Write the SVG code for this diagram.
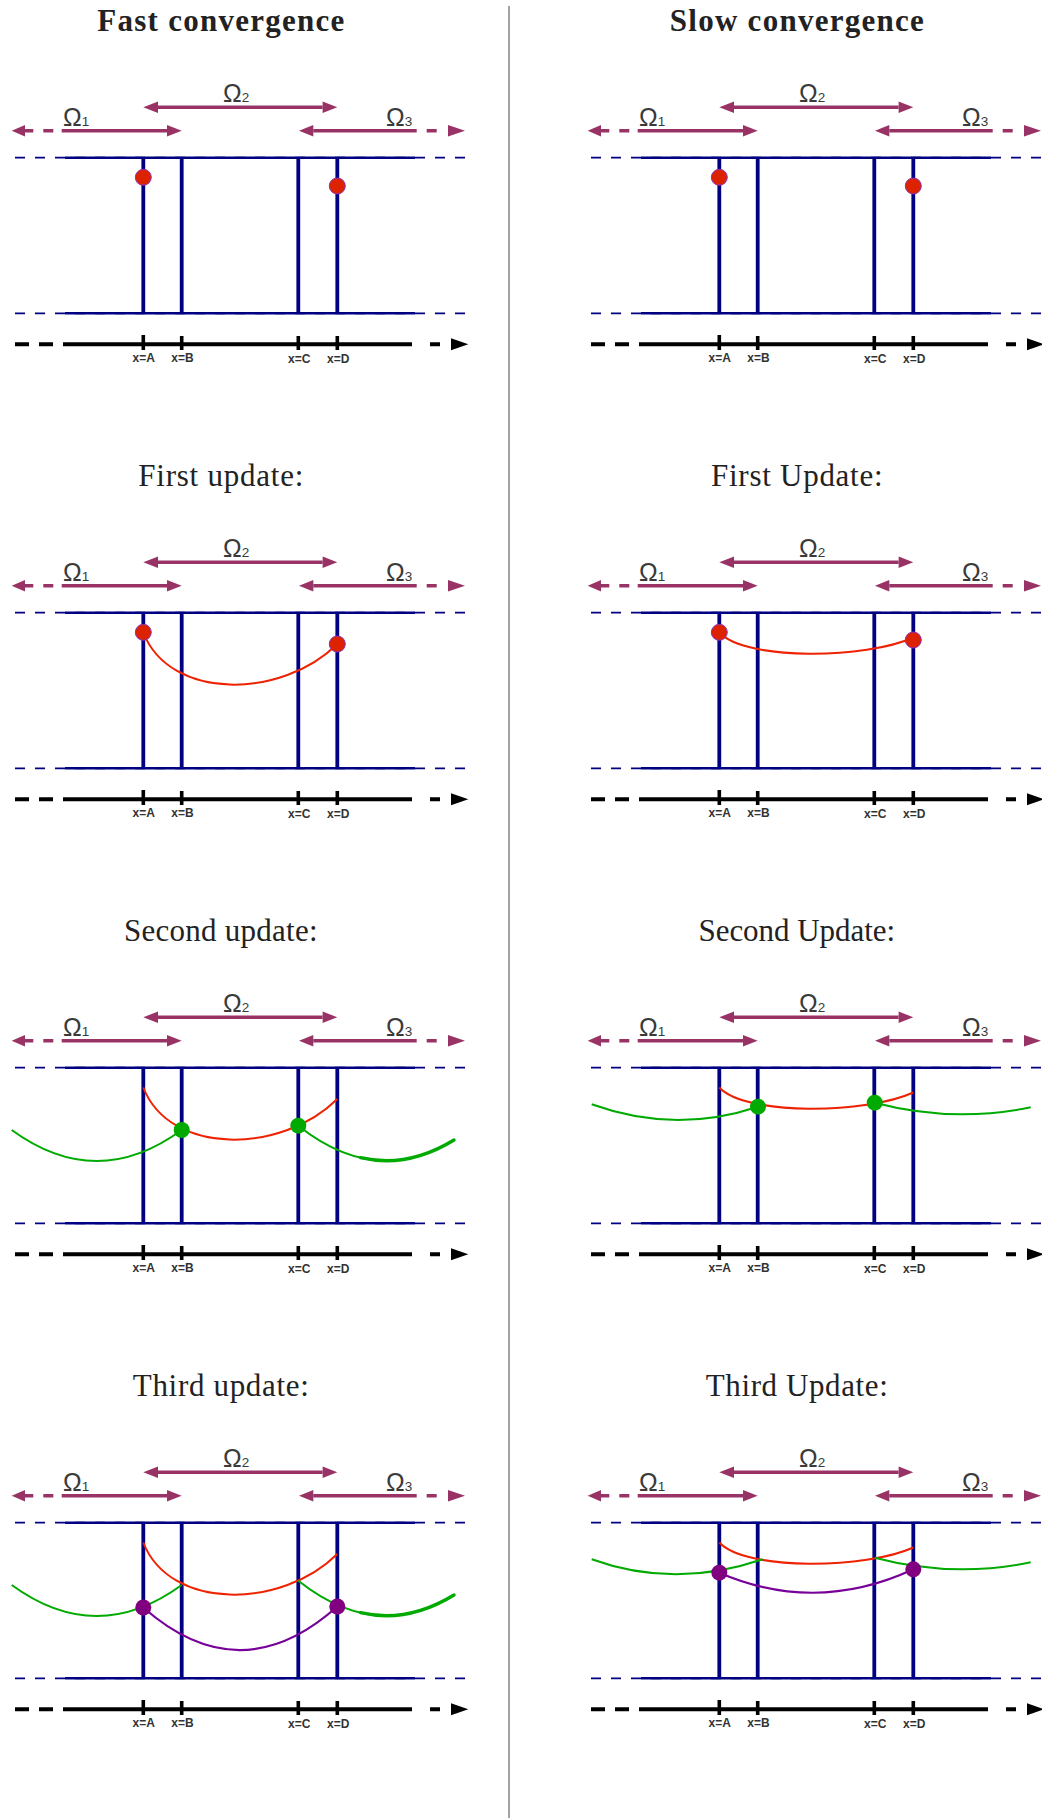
<svg xmlns="http://www.w3.org/2000/svg" width="1042" height="1818" viewBox="0 0 1042 1818">
<style>
.mag{stroke:#993366;stroke-width:3.6;fill:none}
.mh{fill:#993366}
.bh{stroke:#000080;fill:none}
.bd{stroke-width:1.8;stroke-dasharray:10 10}
.bs{stroke-width:2.6}
.bv{stroke:#000080;stroke-width:3.8;fill:none}
.ax{stroke:#000;stroke-width:4;fill:none}
.tk{stroke:#000;stroke-width:3.6}
.om{font-family:"Liberation Sans",Arial,sans-serif;font-size:25px;fill:#3a3a3a}
.sb{font-size:13.5px}
.tl{font-family:"Liberation Sans",Arial,sans-serif;font-size:12px;font-weight:bold;fill:#333;text-anchor:middle}
.ti{font-family:"Liberation Serif","Times New Roman",serif;font-size:31px;font-weight:bold;fill:#222;text-anchor:middle}
.st{font-family:"Liberation Serif","Times New Roman",serif;font-size:31px;fill:#222;text-anchor:middle}
.red{stroke:#ee2200;stroke-width:2;fill:none}
.grn{stroke:#00aa00;stroke-width:2;fill:none}
.gth{stroke:#00aa00;stroke-width:3.4;fill:none;stroke-linecap:round}
.pur{stroke:#770099;stroke-width:2.2;fill:none}
.dr{fill:#dd2200;stroke:#8833bb;stroke-width:1}
.dg{fill:#00aa00}
.dp{fill:#800080}
</style>
<defs>
<g id="base">
<path class="mag" d="M158,107.3H322.6M25,130.7H33.3M43.3,130.7H53.3M61.7,130.7H167M313.3,130.7H416.7M426.7,130.7H436.7"/>
<polygon class="mh" points="143.3,107.3 158,101.5 158,113.1"/>
<polygon class="mh" points="337.3,107.3 322.6,101.5 322.6,113.1"/>
<polygon class="mh" points="11.7,130.7 25,124.9 25,136.5"/>
<polygon class="mh" points="181.7,130.7 167,124.9 167,136.5"/>
<polygon class="mh" points="299,130.7 313.3,124.9 313.3,136.5"/>
<polygon class="mh" points="465,130.7 448,124.9 448,136.5"/>
<path class="bh bd" d="M15,157.7H465M15,313.3H465"/>
<path class="bh bs" d="M65,157.7H415M65,313.3H415"/>
<path class="bv" d="M143.3,157.7V313.3M181.7,157.7V313.3M298.3,157.7V313.3M337.3,157.7V313.3"/>
<path class="ax" stroke-dasharray="14 10" d="M15,344.3H67"/>
<path class="ax" d="M67,344.3H412M430,344.3H440"/>
<polygon points="468.3,344.3 451,338.3 451,350.3" fill="#000"/>
<path class="tk" d="M143.3,335V350M181.7,336V350M298.3,336V350M337.3,336V350"/>
</g>
<path id="redL" class="red" d="M143.3,177.5C170,246 282,244 337.3,189"/>
<path id="redR" class="red" d="M143.3,177.5C170,206 290,204 337.3,182.5"/>
</defs>

<line x1="509" y1="6" x2="509" y2="1818" stroke="#8c8c8c" stroke-width="1.6"/>

<g id="fast-initial">
<text class="ti" x="220.8" y="31" textLength="247">Fast convergence</text>
<use href="#base"/>
<text class="om" x="63" y="126">Ω<tspan class="sb">1</tspan></text>
<text class="om" x="223" y="102">Ω<tspan class="sb">2</tspan></text>
<text class="om" x="386" y="126">Ω<tspan class="sb">3</tspan></text>
<text class="tl" x="143.8" y="362">x=A</text><text class="tl" x="182.5" y="362">x=B</text><text class="tl" x="299.3" y="362.7">x=C</text><text class="tl" x="338.3" y="362.7">x=D</text>
<circle class="dr" cx="143.3" cy="177.3" r="8"/>
<circle class="dr" cx="337.3" cy="186" r="8"/>
</g>

<g id="fast-first" transform="translate(0,455)">
<text class="st" x="220.8" y="31" textLength="165">First update:</text>
<use href="#base"/>
<text class="om" x="63" y="126">Ω<tspan class="sb">1</tspan></text>
<text class="om" x="223" y="102">Ω<tspan class="sb">2</tspan></text>
<text class="om" x="386" y="126">Ω<tspan class="sb">3</tspan></text>
<text class="tl" x="143.8" y="362">x=A</text><text class="tl" x="182.5" y="362">x=B</text><text class="tl" x="299.3" y="362.7">x=C</text><text class="tl" x="338.3" y="362.7">x=D</text>
<use href="#redL"/>
<circle class="dr" cx="143.3" cy="177.3" r="8"/>
<circle class="dr" cx="337.3" cy="189" r="8"/>
</g>

<g id="fast-second" transform="translate(0,910)">
<text class="st" x="220.8" y="31" textLength="193.6">Second update:</text>
<use href="#base"/>
<text class="om" x="63" y="126">Ω<tspan class="sb">1</tspan></text>
<text class="om" x="223" y="102">Ω<tspan class="sb">2</tspan></text>
<text class="om" x="386" y="126">Ω<tspan class="sb">3</tspan></text>
<text class="tl" x="143.8" y="362">x=A</text><text class="tl" x="182.5" y="362">x=B</text><text class="tl" x="299.3" y="362.7">x=C</text><text class="tl" x="338.3" y="362.7">x=D</text>
<use href="#redL"/>
<path class="grn" d="M11.7,220Q96.7,282 181.7,220"/>
<path class="grn" d="M298.3,215.7Q376.2,277.6 454,230"/>
<path class="gth" d="M360.6,247.7Q407.3,258.6 454,230"/>
<circle class="dg" cx="181.7" cy="220" r="8"/>
<circle class="dg" cx="298.3" cy="215.7" r="8"/>
</g>

<g id="fast-third" transform="translate(0,1365)">
<text class="st" x="220.8" y="31" textLength="176">Third update:</text>
<use href="#base"/>
<text class="om" x="63" y="126">Ω<tspan class="sb">1</tspan></text>
<text class="om" x="223" y="102">Ω<tspan class="sb">2</tspan></text>
<text class="om" x="386" y="126">Ω<tspan class="sb">3</tspan></text>
<text class="tl" x="143.8" y="362">x=A</text><text class="tl" x="182.5" y="362">x=B</text><text class="tl" x="299.3" y="362.7">x=C</text><text class="tl" x="338.3" y="362.7">x=D</text>
<use href="#redL"/>
<path class="grn" d="M11.7,220Q96.7,282 181.7,220"/>
<path class="grn" d="M298.3,215.7Q376.2,277.6 454,230"/>
<path class="gth" d="M360.6,247.7Q407.3,258.6 454,230"/>
<path class="pur" d="M143.3,242.5Q240.3,328.1 337.3,241.5"/>
<circle class="dp" cx="143.3" cy="242.5" r="8"/>
<circle class="dp" cx="337.3" cy="241.5" r="8"/>
</g>

<g id="slow-initial" transform="translate(576,0)">
<text class="ti" x="220.8" y="31" textLength="254">Slow convergence</text>
<use href="#base"/>
<text class="om" x="63" y="126">Ω<tspan class="sb">1</tspan></text>
<text class="om" x="223" y="102">Ω<tspan class="sb">2</tspan></text>
<text class="om" x="386" y="126">Ω<tspan class="sb">3</tspan></text>
<text class="tl" x="143.8" y="362">x=A</text><text class="tl" x="182.5" y="362">x=B</text><text class="tl" x="299.3" y="362.7">x=C</text><text class="tl" x="338.3" y="362.7">x=D</text>
<circle class="dr" cx="143.3" cy="177.3" r="8"/>
<circle class="dr" cx="337.3" cy="186" r="8"/>
</g>

<g id="slow-first" transform="translate(576,455)">
<text class="st" x="220.8" y="31" textLength="171.5">First Update:</text>
<use href="#base"/>
<text class="om" x="63" y="126">Ω<tspan class="sb">1</tspan></text>
<text class="om" x="223" y="102">Ω<tspan class="sb">2</tspan></text>
<text class="om" x="386" y="126">Ω<tspan class="sb">3</tspan></text>
<text class="tl" x="143.8" y="362">x=A</text><text class="tl" x="182.5" y="362">x=B</text><text class="tl" x="299.3" y="362.7">x=C</text><text class="tl" x="338.3" y="362.7">x=D</text>
<use href="#redR"/>
<circle class="dr" cx="143.3" cy="177.3" r="8"/>
<circle class="dr" cx="337.3" cy="185" r="8"/>
</g>

<g id="slow-second" transform="translate(576,910)">
<text class="st" x="220.8" y="31" textLength="196.7">Second Update:</text>
<use href="#base"/>
<text class="om" x="63" y="126">Ω<tspan class="sb">1</tspan></text>
<text class="om" x="223" y="102">Ω<tspan class="sb">2</tspan></text>
<text class="om" x="386" y="126">Ω<tspan class="sb">3</tspan></text>
<text class="tl" x="143.8" y="362">x=A</text><text class="tl" x="182.5" y="362">x=B</text><text class="tl" x="299.3" y="362.7">x=C</text><text class="tl" x="338.3" y="362.7">x=D</text>
<use href="#redR"/>
<path class="grn" d="M15.7,194.3Q98.85,224.4 182,196.7"/>
<path class="grn" d="M298.7,192.7Q376.7,213.3 454.7,197.3"/>
<circle class="dg" cx="182" cy="196.7" r="8"/>
<circle class="dg" cx="298.7" cy="192.7" r="8"/>
</g>

<g id="slow-third" transform="translate(576,1365)">
<text class="st" x="220.8" y="31" textLength="182">Third Update:</text>
<use href="#base"/>
<text class="om" x="63" y="126">Ω<tspan class="sb">1</tspan></text>
<text class="om" x="223" y="102">Ω<tspan class="sb">2</tspan></text>
<text class="om" x="386" y="126">Ω<tspan class="sb">3</tspan></text>
<text class="tl" x="143.8" y="362">x=A</text><text class="tl" x="182.5" y="362">x=B</text><text class="tl" x="299.3" y="362.7">x=C</text><text class="tl" x="338.3" y="362.7">x=D</text>
<use href="#redR"/>
<path class="grn" d="M15.7,194.3Q98.85,224.4 186.7,194.3"/>
<path class="grn" d="M298.7,192.7Q376.7,213.3 454.7,197.3"/>
<path class="pur" d="M143.3,207.7Q240.3,249.4 337.3,204.3"/>
<circle class="dp" cx="143.3" cy="207.7" r="8"/>
<circle class="dp" cx="337.3" cy="204.3" r="8"/>
</g>
</svg>
